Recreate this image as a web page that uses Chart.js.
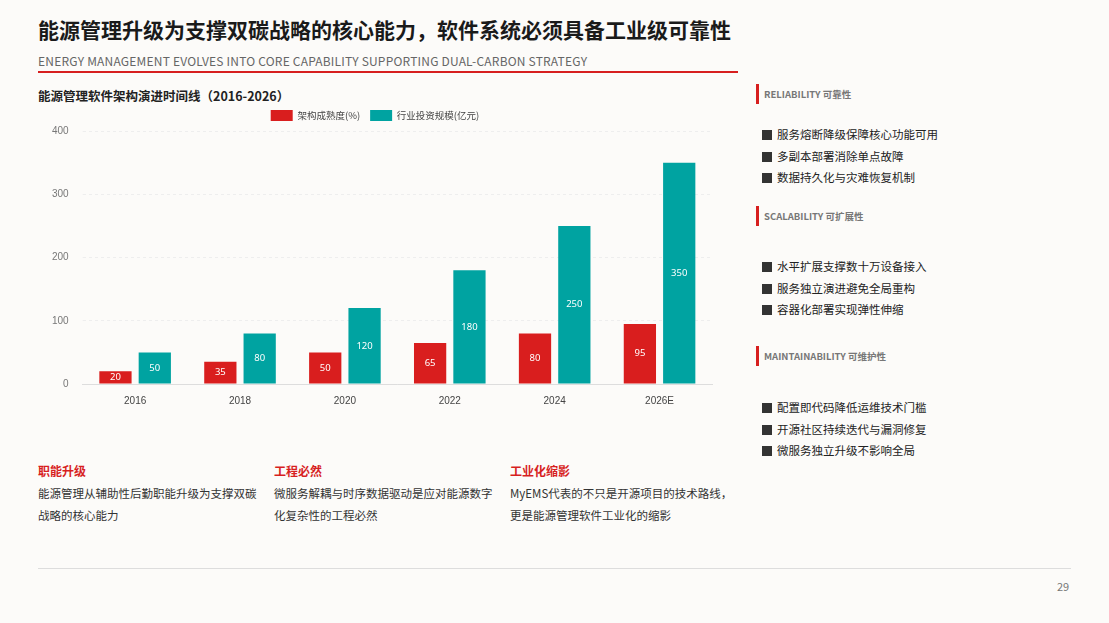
<!DOCTYPE html>
<html><head><meta charset="utf-8">
<script src="https://cdn.jsdelivr.net/npm/chart.js@4"></script>
<style>
body{margin:0;width:1109px;height:623px;background:#fcfbf9;font-family:"Noto Sans CJK SC","Noto Sans",sans-serif;position:relative;overflow:hidden;color:#222}
.abs{position:absolute}
h1{position:absolute;left:38px;top:14px;margin:0;font-size:21px;font-weight:700;color:#1a1a1a}
.sub{left:38px;top:52px;font-size:12px;color:#666;letter-spacing:.2px}
.rule{left:38px;top:71px;width:700px;height:2px;background:#d71f1f}
.ctitle{left:38px;top:86px;font-size:12.5px;font-weight:700}
#wrap{left:38px;top:100px;width:680px;height:310px}
.sec{left:756px;font-size:9.5px;font-weight:700;color:#777;border-left:3px solid #d71f1f;padding-left:5px;height:20px;line-height:20px}
.li{left:762px;font-size:11.5px;color:#222}
.li:before{content:"";display:inline-block;width:10px;height:10px;background:#333;margin-right:5px;vertical-align:-1px}
.ft{font-size:12px;font-weight:700;color:#d71f1f;top:462px}
.fb{font-size:11.5px;color:#333;top:482px;width:225px;line-height:22px}
.bottom{left:38px;top:568px;width:1033px;height:1px;background:#ddd}
.pg{left:1057px;top:578px;font-size:11px;color:#777}
</style></head><body>
<h1>能源管理升级为支撑双碳战略的核心能力，软件系统必须具备工业级可靠性</h1>
<div class="abs sub">ENERGY MANAGEMENT EVOLVES INTO CORE CAPABILITY SUPPORTING DUAL-CARBON STRATEGY</div>
<div class="abs rule"></div>
<div class="abs ctitle">能源管理软件架构演进时间线（2016-2026）</div>
<div class="abs" id="wrap"><canvas id="c"></canvas></div>

<div class="abs sec" style="top:84px">RELIABILITY 可靠性</div>
<div class="abs li" style="top:126px">服务熔断降级保障核心功能可用</div>
<div class="abs li" style="top:148px">多副本部署消除单点故障</div>
<div class="abs li" style="top:169px">数据持久化与灾难恢复机制</div>
<div class="abs sec" style="top:206px">SCALABILITY 可扩展性</div>
<div class="abs li" style="top:258px">水平扩展支撑数十万设备接入</div>
<div class="abs li" style="top:280px">服务独立演进避免全局重构</div>
<div class="abs li" style="top:301px">容器化部署实现弹性伸缩</div>
<div class="abs sec" style="top:346px">MAINTAINABILITY 可维护性</div>
<div class="abs li" style="top:399px">配置即代码降低运维技术门槛</div>
<div class="abs li" style="top:421px">开源社区持续迭代与漏洞修复</div>
<div class="abs li" style="top:442px">微服务独立升级不影响全局</div>

<div class="abs ft" style="left:38px">职能升级</div>
<div class="abs fb" style="left:38px">能源管理从辅助性后勤职能升级为支撑双碳战略的核心能力</div>
<div class="abs ft" style="left:274px">工程必然</div>
<div class="abs fb" style="left:274px">微服务解耦与时序数据驱动是应对能源数字化复杂性的工程必然</div>
<div class="abs ft" style="left:510px">工业化缩影</div>
<div class="abs fb" style="left:510px">MyEMS代表的不只是开源项目的技术路线，更是能源管理软件工业化的缩影</div>
<div class="abs bottom"></div>
<div class="abs pg">29</div>
<script>
const years = ["2016","2018","2020","2022","2024","2026E"];
const maturity = [20,35,50,65,80,95];
const invest = [50,80,120,180,250,350];
const yTicks = [0,100,200,300,400];

const inLabels = {
  id:"inLabels",
  afterDatasetsDraw(chart){
    const ctx = chart.ctx;
    ctx.save();
    ctx.fillStyle="#fff";
    ctx.font="9.5px 'Noto Sans'";
    ctx.textAlign="center"; ctx.textBaseline="middle";
    chart.data.datasets.forEach((ds,i)=>{
      chart.getDatasetMeta(i).data.forEach((bar,j)=>{
        const p = bar.getProps(["x","y","base"],true);
        ctx.fillText(ds.data[j], p.x, (p.y+p.base)/2);
      });
    });
    ctx.restore();
  }
};

new Chart(document.getElementById("c"),{
  type:"bar",
  data:{labels:years,datasets:[
    {label:"架构成熟度(%)",data:maturity,backgroundColor:"#d91e1e"},
    {label:"行业投资规模(亿元)",data:invest,backgroundColor:"#00a3a1"}
  ]},
  options:{
    responsive:true,maintainAspectRatio:false,animation:false,
    categoryPercentage:0.75,barPercentage:0.82,
    layout:{padding:{top:0,right:6}},
    plugins:{legend:{position:"top",labels:{boxWidth:22,boxHeight:11,font:{size:9.5,family:"Noto Sans CJK SC"},color:"#444",padding:10}}},
    scales:{
      x:{grid:{display:false,drawTicks:true},border:{color:"#ddd"},ticks:{color:"#444",font:{size:10}}},
      y:{min:0,max:400,afterBuildTicks(s){s.ticks=yTicks.map(v=>({value:v}));},
        grid:{color:"#eee",tickLength:0},border:{display:false,dash:[3,3]},
        ticks:{color:"#777",font:{size:10},padding:14}}
    }
  },
  plugins:[inLabels]
});
</script>
</body></html>
